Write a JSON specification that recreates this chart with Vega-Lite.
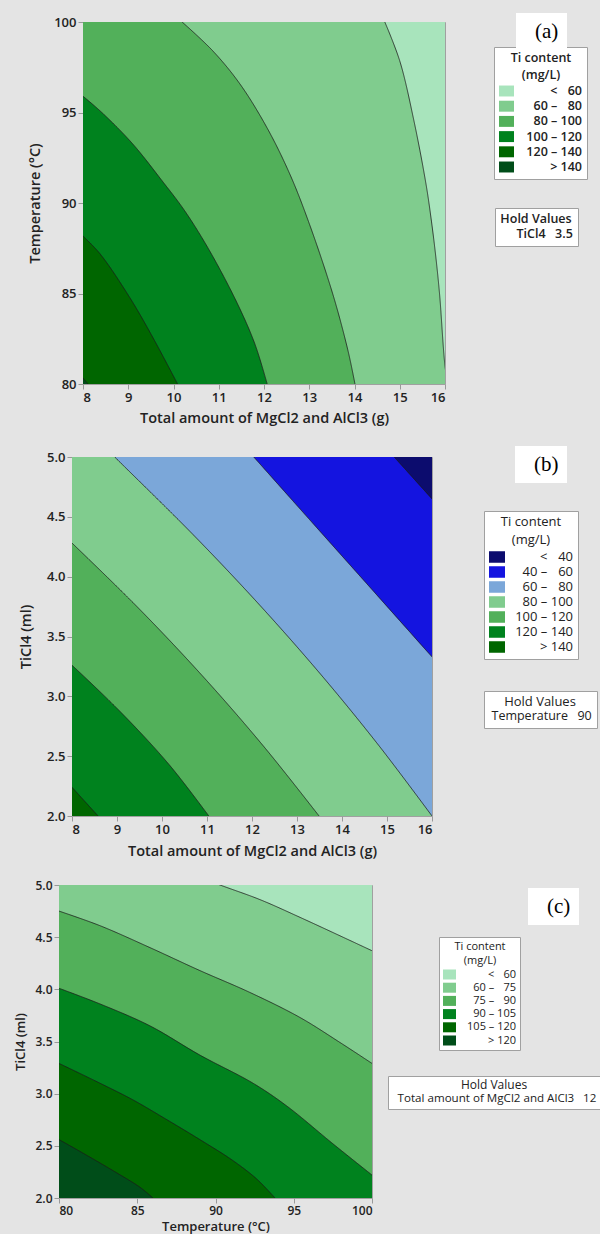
{
  "$schema": "https://vega.github.io/schema/vega-lite/v6.json",
  "background": "#e4e4e4",
  "padding": {"left": 0, "top": 12, "right": 0, "bottom": 0},
  "spacing": 20,
  "config": {
    "view": {"stroke": "#a0a0a0", "strokeWidth": 1},
    "axis": {"grid": false, "domain": false, "tickColor": "#999999", "tickSize": 5, "labelPadding": 2, "labelFont": "Open Sans", "labelFontWeight": 600, "labelColor": "#222222", "titleFont": "Open Sans", "titleFontWeight": 600, "titleColor": "#222222"},
    "legend": {"labelFont": "Open Sans", "titleFont": "Open Sans", "labelColor": "#222222", "titleColor": "#222222"},
    "area": {"opacity": 1, "interpolate": "catmull-rom"},
    "line": {"strokeWidth": 0.8, "interpolate": "catmull-rom"}
  },
  "datasets": {
    "none": [],
    "a": [
      {"b": "< \u200760", "x": 16, "y": 80}, {"b": "< \u200760", "x": 16, "y": 100},
      {"b": "60 – \u200780", "x": 16.09, "y": 79.5}, {"b": "60 – \u200780", "x": 16.0, "y": 81.0}, {"b": "60 – \u200780", "x": 15.88, "y": 84.97}, {"b": "60 – \u200780", "x": 15.79, "y": 87.18}, {"b": "60 – \u200780", "x": 15.7, "y": 89.0}, {"b": "60 – \u200780", "x": 15.58, "y": 91.05}, {"b": "60 – \u200780", "x": 15.3, "y": 94.7}, {"b": "60 – \u200780", "x": 15.0, "y": 97.85}, {"b": "60 – \u200780", "x": 14.67, "y": 100},
      {"b": "80 – 100", "x": 14.01, "y": 80}, {"b": "80 – 100", "x": 13.86, "y": 81.8}, {"b": "80 – 100", "x": 13.52, "y": 84.97}, {"b": "80 – 100", "x": 12.98, "y": 89.0}, {"b": "80 – 100", "x": 12.57, "y": 91.6}, {"b": "80 – 100", "x": 12.07, "y": 94.14}, {"b": "80 – 100", "x": 11.47, "y": 96.57}, {"b": "80 – 100", "x": 10.87, "y": 98.4}, {"b": "80 – 100", "x": 10.19, "y": 100},
      {"b": "100 – 120", "x": 12.07, "y": 80}, {"b": "100 – 120", "x": 11.8, "y": 82.2}, {"b": "100 – 120", "x": 11.42, "y": 84.4}, {"b": "100 – 120", "x": 10.8, "y": 87.35}, {"b": "100 – 120", "x": 10.25, "y": 89.56}, {"b": "100 – 120", "x": 9.75, "y": 91.22}, {"b": "100 – 120", "x": 9.1, "y": 93.26}, {"b": "100 – 120", "x": 8.45, "y": 94.92}, {"b": "100 – 120", "x": 8.0, "y": 95.9}, {"b": "100 – 120", "x": 7.5, "y": 96.9},
      {"b": "120 – 140", "x": 10.09, "y": 80}, {"b": "120 – 140", "x": 9.55, "y": 82.54}, {"b": "120 – 140", "x": 9.04, "y": 84.75}, {"b": "120 – 140", "x": 8.38, "y": 87.18}, {"b": "120 – 140", "x": 8.0, "y": 88.18}, {"b": "120 – 140", "x": 7.6, "y": 89.2},
      {"b": "> 140", "x": 8.11, "y": 80}, {"b": "> 140", "x": 8.0, "y": 80.33}, {"b": "> 140", "x": 7.8, "y": 80.9}
    ],
    "b": [
      {"b": "< \u200740", "x": 16, "y": 2}, {"b": "< \u200740", "x": 16, "y": 5},
      {"b": "40 – \u200760", "x": 17, "y": 2.0}, {"b": "40 – \u200760", "x": 17, "y": 4.23}, {"b": "40 – \u200760", "x": 16.0, "y": 4.65}, {"b": "40 – \u200760", "x": 15.16, "y": 5.0},
      {"b": "60 – \u200780", "x": 17, "y": 2.0}, {"b": "60 – \u200780", "x": 17, "y": 2.91}, {"b": "60 – \u200780", "x": 16.0, "y": 3.33}, {"b": "60 – \u200780", "x": 14.68, "y": 3.887}, {"b": "60 – \u200780", "x": 13.36, "y": 4.443}, {"b": "60 – \u200780", "x": 12.04, "y": 5.0},
      {"b": "80 – 100", "x": 16.0, "y": 2.0}, {"b": "80 – 100", "x": 14.81, "y": 2.593}, {"b": "80 – 100", "x": 13.54, "y": 3.178}, {"b": "80 – 100", "x": 12.17, "y": 3.763}, {"b": "80 – 100", "x": 10.7, "y": 4.348}, {"b": "80 – 100", "x": 9.13, "y": 4.933}, {"b": "80 – 100", "x": 8.95, "y": 5.0},
      {"b": "100 – 120", "x": 13.49, "y": 2.0}, {"b": "100 – 120", "x": 12.29, "y": 2.568}, {"b": "100 – 120", "x": 10.98, "y": 3.137}, {"b": "100 – 120", "x": 9.54, "y": 3.713}, {"b": "100 – 120", "x": 8.0, "y": 4.281}, {"b": "100 – 120", "x": 7.5, "y": 4.46},
      {"b": "120 – 140", "x": 11.04, "y": 2.0}, {"b": "120 – 140", "x": 10.17, "y": 2.424}, {"b": "120 – 140", "x": 9.15, "y": 2.842}, {"b": "120 – 140", "x": 8.0, "y": 3.26}, {"b": "120 – 140", "x": 7.5, "y": 3.43},
      {"b": "> 140", "x": 8.58, "y": 2.0}, {"b": "> 140", "x": 8.0, "y": 2.24}, {"b": "> 140", "x": 7.5, "y": 2.45}
    ],
    "c": [
      {"b": "< \u200760", "x": 80, "y": 5}, {"b": "< \u200760", "x": 100, "y": 5},
      {"b": "60 – \u200775", "x": 80, "y": 5.57}, {"b": "60 – \u200775", "x": 90.29, "y": 5.0}, {"b": "60 – \u200775", "x": 92.84, "y": 4.86}, {"b": "60 – \u200775", "x": 95.4, "y": 4.69}, {"b": "60 – \u200775", "x": 100, "y": 4.37},
      {"b": "75 – \u200790", "x": 80, "y": 4.75}, {"b": "75 – \u200790", "x": 82.62, "y": 4.61}, {"b": "75 – \u200790", "x": 85.81, "y": 4.4}, {"b": "75 – \u200790", "x": 89.0, "y": 4.18}, {"b": "75 – \u200790", "x": 92.2, "y": 3.97}, {"b": "75 – \u200790", "x": 95.4, "y": 3.73}, {"b": "75 – \u200790", "x": 97.96, "y": 3.49}, {"b": "75 – \u200790", "x": 100, "y": 3.29},
      {"b": "90 – 105", "x": 80, "y": 4.01}, {"b": "90 – 105", "x": 82.62, "y": 3.86}, {"b": "90 – 105", "x": 85.81, "y": 3.65}, {"b": "90 – 105", "x": 89.0, "y": 3.37}, {"b": "90 – 105", "x": 92.4, "y": 3.1}, {"b": "90 – 105", "x": 94.57, "y": 2.88}, {"b": "90 – 105", "x": 97.5, "y": 2.52}, {"b": "90 – 105", "x": 100, "y": 2.22},
      {"b": "105 – 120", "x": 80, "y": 3.29}, {"b": "105 – 120", "x": 82.62, "y": 3.1}, {"b": "105 – 120", "x": 84.73, "y": 2.94}, {"b": "105 – 120", "x": 86.9, "y": 2.75}, {"b": "105 – 120", "x": 89.0, "y": 2.56}, {"b": "105 – 120", "x": 91.1, "y": 2.36}, {"b": "105 – 120", "x": 92.65, "y": 2.18}, {"b": "105 – 120", "x": 93.8, "y": 2.0},
      {"b": "> 120", "x": 80, "y": 2.56}, {"b": "> 120", "x": 81.53, "y": 2.43}, {"b": "> 120", "x": 83.7, "y": 2.24}, {"b": "> 120", "x": 85.2, "y": 2.1}, {"b": "> 120", "x": 86.0, "y": 2.0}
    ]
  },
  "resolve": {
    "scale": {"color": "independent", "strokeDash": "independent", "opacity": "independent", "x": "independent", "y": "independent"},
    "legend": {"color": "independent", "strokeDash": "independent", "opacity": "independent"}
  },
  "vconcat": [
    {"spacing": 26, "hconcat": [
    {"width": 1, "height": 1, "data": {"name": "none"}, "mark": "point", "view": {"stroke": null}},
    {
      "width": 362, "height": 362,
      "data": {"name": "a"},
      "encoding": {
        "x": {"field": "x", "type": "quantitative", "stack": null, "scale": {"domain": [8, 16], "nice": false, "zero": false}, "axis": {"title": "Total amount of MgCl2 and AlCl3 (g)", "values": [8, 9, 10, 11, 12, 13, 14, 15, 16], "labelFontSize": 13, "titleFontSize": 14.5, "titlePadding": 7}},
        "y": {"field": "y", "type": "quantitative", "scale": {"domain": [80, 100], "nice": false, "zero": false}, "axis": {"title": "Temperature (°C)", "values": [80, 85, 90, 95, 100], "labelFontSize": 13, "titleFontSize": 14.5, "titlePadding": 11}},
        "color": {"field": "b", "type": "nominal",
          "scale": {"domain": ["< \u200760", "60 – \u200780", "80 – 100", "100 – 120", "120 – 140", "> 140"], "range": ["#a8e4bc", "#80cc8e", "#52b05a", "#00821e", "#006600", "#004d19"]},
          "legend": {"title": ["Ti content", "(mg/L)"], "orient": "none", "legendX": 411, "legendY": 25, "fillColor": "white", "strokeColor": "#a0a0a0", "padding": 5, "titleFontSize": 12.5, "titleFontWeight": 600, "titleAnchor": "middle", "titleAlign": "center", "titleLineHeight": 17, "titlePadding": 2, "labelFontSize": 12.5, "labelFontWeight": 600, "labelAlign": "right", "labelOffset": 68, "symbolType": "M-1,-0.73H1V0.73H-1Z", "symbolSize": 225, "symbolStrokeWidth": 0, "rowPadding": 1.2}}
      },
      "layer": [
        {"transform": [{"filter": {"field": "b", "equal": "< \u200760"}}], "mark": {"type": "area", "orient": "horizontal", "clip": true},
         "encoding": {"x2": {"datum": 8},
           "opacity": {"datum": "(a)", "type": "ordinal", "scale": {"range": [1, 1]}, "legend": {"title": null, "orient": "none", "legendX": 433, "legendY": -9, "fillColor": "white", "padding": 8, "labelFont": "Liberation Serif", "labelFontSize": 21, "labelFontWeight": "normal", "labelColor": "black", "labelOffset": -10, "symbolSize": 0, "symbolOpacity": 0, "symbolStrokeWidth": 0}}}},
        {"transform": [{"filter": {"field": "b", "equal": "60 – \u200780"}}], "mark": {"type": "area", "orient": "horizontal", "clip": true}, "encoding": {"x2": {"datum": 8}}},
        {"transform": [{"filter": {"field": "b", "equal": "80 – 100"}}], "mark": {"type": "area", "orient": "horizontal", "clip": true}, "encoding": {"x2": {"datum": 8}}},
        {"transform": [{"filter": {"field": "b", "equal": "100 – 120"}}], "mark": {"type": "area", "orient": "horizontal", "clip": true}, "encoding": {"x2": {"datum": 8}}},
        {"transform": [{"filter": {"field": "b", "equal": "120 – 140"}}], "mark": {"type": "area", "orient": "horizontal", "clip": true}, "encoding": {"x2": {"datum": 8}}},
        {"transform": [{"filter": {"field": "b", "equal": "> 140"}}], "mark": {"type": "area", "orient": "horizontal", "clip": true}, "encoding": {"x2": {"datum": 8}}},
        {"transform": [{"filter": "datum.b != '< \u200760'"}], "mark": {"type": "line", "clip": true, "strokeWidth": 0.8},
         "encoding": {"color": {"value": "#1a1a1a"}, "detail": {"field": "b"}, "order": {"field": "y", "type": "quantitative"},
           "strokeDash": {"datum": "TiCl4\u2002 3.5", "type": "nominal", "scale": {"range": [[1, 0]]}, "legend": {"title": "Hold Values", "orient": "none", "legendX": 412, "legendY": 186, "fillColor": "white", "strokeColor": "#a0a0a0", "padding": 5, "titleFontSize": 12.5, "titleFontWeight": 600, "titleAnchor": "middle", "titleAlign": "center", "titlePadding": 2, "labelFontSize": 12.5, "labelFontWeight": 600, "labelAlign": "left", "labelOffset": 4, "symbolSize": 0, "symbolOpacity": 0, "symbolStrokeWidth": 0}}}}
      ]
    }], "resolve": {"scale": {"color": "independent", "strokeDash": "independent", "opacity": "independent"}}},
    {"spacing": 16, "hconcat": [
    {"width": 1, "height": 1, "data": {"name": "none"}, "mark": "point", "view": {"stroke": null}},
    {
      "width": 360, "height": 359,
      "data": {"name": "b"},
      "encoding": {
        "x": {"field": "x", "type": "quantitative", "stack": null, "scale": {"domain": [8, 16], "nice": false, "zero": false}, "axis": {"title": "Total amount of MgCl2 and AlCl3 (g)", "values": [8, 9, 10, 11, 12, 13, 14, 15, 16], "labelFontSize": 13, "titleFontSize": 14.5, "titlePadding": 8}},
        "y": {"field": "y", "type": "quantitative", "scale": {"domain": [2, 5], "nice": false, "zero": false}, "axis": {"title": "TiCl4 (ml)", "values": [2, 2.5, 3, 3.5, 4, 4.5, 5], "format": ".1f", "labelFontSize": 13, "titleFontSize": 14.5, "titlePadding": 13.5}},
        "color": {"field": "b", "type": "nominal",
          "scale": {"domain": ["< \u200740", "40 – \u200760", "60 – \u200780", "80 – 100", "100 – 120", "120 – 140", "> 140"], "range": ["#0c0c6e", "#1414e0", "#7ba7d9", "#80cc8e", "#52b05a", "#00821e", "#006600"]},
          "legend": {"title": ["Ti content", "(mg/L)"], "orient": "none", "legendX": 412, "legendY": 54, "fillColor": "white", "strokeColor": "#a0a0a0", "padding": 5, "titleFontSize": 13, "titleFontWeight": "normal", "titleAnchor": "middle", "titleAlign": "center", "titleLineHeight": 18, "titlePadding": 2, "labelFontSize": 13, "labelFontWeight": "normal", "labelAlign": "right", "labelOffset": 68, "labelExpr": "datum.label + '\u2007\u2007\u2007'", "symbolType": "M-1,-0.72H1V0.72H-1Z", "symbolSize": 256, "symbolStrokeWidth": 0, "rowPadding": 0}}
      },
      "layer": [
        {"transform": [{"filter": {"field": "b", "equal": "< \u200740"}}], "mark": {"type": "area", "orient": "horizontal", "clip": true},
         "encoding": {"x2": {"datum": 8},
           "opacity": {"datum": "(b)", "type": "ordinal", "scale": {"range": [1, 1]}, "legend": {"title": null, "orient": "none", "legendX": 443, "legendY": -11, "fillColor": "white", "padding": 8, "labelFont": "Liberation Serif", "labelFontSize": 21, "labelFontWeight": "normal", "labelColor": "black", "labelOffset": -10, "symbolSize": 0, "symbolOpacity": 0, "symbolStrokeWidth": 0}}}},
        {"transform": [{"filter": {"field": "b", "equal": "40 – \u200760"}}], "mark": {"type": "area", "orient": "horizontal", "clip": true}, "encoding": {"x2": {"datum": 8}}},
        {"transform": [{"filter": {"field": "b", "equal": "60 – \u200780"}}], "mark": {"type": "area", "orient": "horizontal", "clip": true}, "encoding": {"x2": {"datum": 8}}},
        {"transform": [{"filter": {"field": "b", "equal": "80 – 100"}}], "mark": {"type": "area", "orient": "horizontal", "clip": true}, "encoding": {"x2": {"datum": 8}}},
        {"transform": [{"filter": {"field": "b", "equal": "100 – 120"}}], "mark": {"type": "area", "orient": "horizontal", "clip": true}, "encoding": {"x2": {"datum": 8}}},
        {"transform": [{"filter": {"field": "b", "equal": "120 – 140"}}], "mark": {"type": "area", "orient": "horizontal", "clip": true}, "encoding": {"x2": {"datum": 8}}},
        {"transform": [{"filter": {"field": "b", "equal": "> 140"}}], "mark": {"type": "area", "orient": "horizontal", "clip": true}, "encoding": {"x2": {"datum": 8}}},
        {"transform": [{"filter": "datum.b != '< \u200740'"}], "mark": {"type": "line", "clip": true, "strokeWidth": 0.8},
         "encoding": {"color": {"value": "#1a1a1a"}, "detail": {"field": "b"}, "order": {"field": "y", "type": "quantitative"},
           "strokeDash": {"datum": "Temperature\u2002 90", "type": "nominal", "scale": {"range": [[1, 0]]}, "legend": {"title": "Hold Values", "orient": "none", "legendX": 412, "legendY": 234, "fillColor": "white", "strokeColor": "#a0a0a0", "padding": 5, "titleFontSize": 13, "titleFontWeight": "normal", "titleAnchor": "middle", "titleAlign": "center", "titlePadding": 1, "labelFontSize": 12.5, "labelFontWeight": "normal", "labelAlign": "left", "labelOffset": -10, "symbolSize": 0, "symbolOpacity": 0, "symbolStrokeWidth": 0}}}}
      ]
    }], "resolve": {"scale": {"color": "independent", "strokeDash": "independent", "opacity": "independent"}}},
    {"spacing": 13, "hconcat": [
    {"width": 1, "height": 1, "data": {"name": "none"}, "mark": "point", "view": {"stroke": null}},
    {
      "width": 313, "height": 313,
      "data": {"name": "c"},
      "encoding": {
        "x": {"field": "x", "type": "quantitative", "scale": {"domain": [80, 100], "nice": false, "zero": false}, "axis": {"title": "Temperature (°C)", "values": [80, 85, 90, 95, 100], "labelFontSize": 12, "titleFontSize": 13, "titlePadding": 4}},
        "y": {"field": "y", "type": "quantitative", "stack": null, "scale": {"domain": [2, 5], "nice": false, "zero": false}, "axis": {"title": "TiCl4 (ml)", "values": [2, 2.5, 3, 3.5, 4, 4.5, 5], "format": ".1f", "labelFontSize": 12, "titleFontSize": 13, "titlePadding": 7}},
        "color": {"field": "b", "type": "nominal",
          "scale": {"domain": ["< \u200760", "60 – \u200775", "75 – \u200790", "90 – 105", "105 – 120", "> 120"], "range": ["#a8e4bc", "#80cc8e", "#52b05a", "#00821e", "#006600", "#004d19"]},
          "legend": {"title": ["Ti content", "(mg/L)"], "orient": "none", "legendX": 380, "legendY": 52, "fillColor": "white", "strokeColor": "#a0a0a0", "padding": 4, "titleFontSize": 11, "titleFontWeight": "normal", "titleAnchor": "middle", "titleAlign": "center", "titleLineHeight": 14, "titlePadding": 2, "labelFontSize": 11, "labelFontWeight": "normal", "labelAlign": "right", "labelOffset": 60, "symbolType": "M-1,-0.77H1V0.77H-1Z", "symbolSize": 169, "symbolStrokeWidth": 0, "rowPadding": 1.2}}
      },
      "layer": [
        {"transform": [{"filter": {"field": "b", "equal": "< \u200760"}}], "mark": {"type": "area", "orient": "vertical", "clip": true},
         "encoding": {"y2": {"datum": 2},
           "opacity": {"datum": "(c)", "type": "ordinal", "scale": {"range": [1, 1]}, "legend": {"title": null, "orient": "none", "legendX": 469, "legendY": 3, "fillColor": "white", "padding": 8, "labelFont": "Liberation Serif", "labelFontSize": 21, "labelFontWeight": "normal", "labelColor": "black", "labelOffset": -10, "symbolSize": 0, "symbolOpacity": 0, "symbolStrokeWidth": 0}}}},
        {"transform": [{"filter": {"field": "b", "equal": "60 – \u200775"}}], "mark": {"type": "area", "orient": "vertical", "clip": true}, "encoding": {"y2": {"datum": 2}}},
        {"transform": [{"filter": {"field": "b", "equal": "75 – \u200790"}}], "mark": {"type": "area", "orient": "vertical", "clip": true}, "encoding": {"y2": {"datum": 2}}},
        {"transform": [{"filter": {"field": "b", "equal": "90 – 105"}}], "mark": {"type": "area", "orient": "vertical", "clip": true}, "encoding": {"y2": {"datum": 2}}},
        {"transform": [{"filter": {"field": "b", "equal": "105 – 120"}}], "mark": {"type": "area", "orient": "vertical", "clip": true}, "encoding": {"y2": {"datum": 2}}},
        {"transform": [{"filter": {"field": "b", "equal": "> 120"}}], "mark": {"type": "area", "orient": "vertical", "clip": true}, "encoding": {"y2": {"datum": 2}}},
        {"transform": [{"filter": "datum.b != '< \u200760'"}], "mark": {"type": "line", "clip": true, "strokeWidth": 0.8},
         "encoding": {"color": {"value": "#1a1a1a"}, "detail": {"field": "b"}, "order": {"field": "x", "type": "quantitative"},
           "strokeDash": {"datum": "Total amount of MgCl2 and AlCl3\u2002 12", "type": "nominal", "scale": {"range": [[1, 0]]}, "legend": {"title": "Hold Values", "orient": "none", "legendX": 329, "legendY": 191, "fillColor": "white", "strokeColor": "#a0a0a0", "padding": 4, "titleFontSize": 12, "titleFontWeight": "normal", "titleAnchor": "middle", "titleAlign": "center", "titlePadding": 1, "labelFontSize": 11.6, "labelFontWeight": "normal", "labelAlign": "left", "labelOffset": -6, "labelLimit": 400, "symbolSize": 0, "symbolOpacity": 0, "symbolStrokeWidth": 0}}}}
      ]
    }], "resolve": {"scale": {"color": "independent", "strokeDash": "independent", "opacity": "independent"}}}
  ]
}
